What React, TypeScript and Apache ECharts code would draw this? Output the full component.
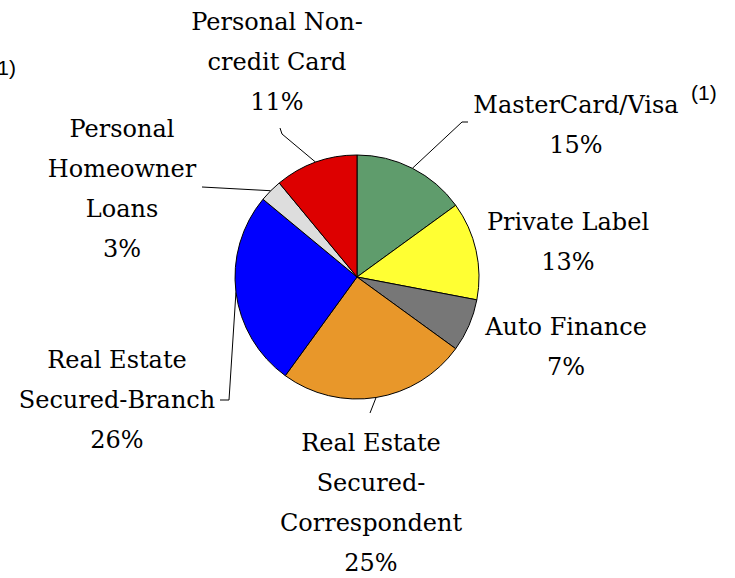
import React, { useEffect, useRef } from "react";
import * as echarts from "echarts";

const categories = [
  "MasterCard/Visa",
  "Private Label",
  "Auto Finance",
  "Real Estate Secured-Correspondent",
  "Real Estate Secured-Branch",
  "Personal Homeowner Loans",
  "Personal Non-credit Card",
];
const labelTexts = [
  "MasterCard/Visa",
  "Private Label",
  "Auto Finance",
  "Real Estate\nSecured-\nCorrespondent",
  "Real Estate\nSecured-Branch",
  "Personal\nHomeowner\nLoans",
  "Personal Non-\ncredit Card",
];
const values = [15, 13, 7, 25, 26, 3, 11];
const colors = ["#5f9c6c", "#ffff33", "#777777", "#e8972a", "#0000ff", "#dddddd", "#dd0000"];

// layout: label block centres and leader-line bends
const labelCenters: [number, number][] = [
  [576, 125],
  [568, 242],
  [566, 347],
  [371, 503],
  [117, 400],
  [122, 189],
  [277, 62],
];
const leaderBends: ([number, number][] | null)[] = [
  [[462, 122], [468, 122]],
  null,
  null,
  [[370, 413]],
  [[229, 400], [220, 400]],
  [[202, 187]],
  [[282, 134], [280, 128]],
];

const PIE_CX = 357;
const PIE_CY = 277;
const PIE_R = 122;
const FONT = "'DejaVu Serif', serif";
const SANS = "'Liberation Sans', Arial, sans-serif";

export default function App() {
  const ref = useRef<HTMLDivElement>(null);
  useEffect(() => {
    if (!ref.current) return;
    const chart = echarts.init(ref.current, null, { renderer: "svg" });
    const total = values.reduce((a, b) => a + b, 0);
    const edgePoint = (i: number): [number, number] => {
      const before = values.slice(0, i).reduce((a, b) => a + b, 0);
      const mid = ((before + values[i] / 2) / total) * Math.PI * 2;
      return [PIE_CX + PIE_R * Math.sin(mid), PIE_CY - PIE_R * Math.cos(mid)];
    };
    chart.setOption({
      animation: false,
      backgroundColor: "#ffffff",
      graphic: [
        {
          type: "text",
          x: 16,
          y: 67,
          style: {
            text: "(1)",
            fontSize: 21,
            fontFamily: SANS,
            fill: "#000",
            align: "right",
            verticalAlign: "middle",
          },
        },
        {
          type: "text",
          x: 691,
          y: 92,
          style: {
            text: "(1)",
            fontSize: 21,
            fontFamily: SANS,
            fill: "#000",
            align: "left",
            verticalAlign: "middle",
          },
        },
      ],
      series: [
        {
          type: "pie",
          center: [PIE_CX, PIE_CY],
          radius: PIE_R,
          startAngle: 90,
          clockwise: true,
          avoidLabelOverlap: false,
          itemStyle: { borderColor: "#000", borderWidth: 1 },
          emphasis: { disabled: true },
          label: {
            show: true,
            position: "outside",
            fontFamily: FONT,
            fontSize: 24,
            lineHeight: 40,
            color: "#000",
            align: "center",
            formatter: (p: any) => `${labelTexts[p.dataIndex]}\n${p.value}%`,
          },
          labelLine: { show: true, lineStyle: { color: "#000", width: 1 } },
          labelLayout: (p: any) => {
            const i = p.dataIndex;
            const [x, y] = labelCenters[i];
            const out: any = { x, y, align: "center", verticalAlign: "middle", hideOverlap: false };
            const bends = leaderBends[i];
            if (bends) {
              out.labelLinePoints = [edgePoint(i), ...bends];
            }
            return out;
          },
          data: categories.map((name, i) => ({
            name,
            value: values[i],
            itemStyle: { color: colors[i] },
            labelLine: { show: leaderBends[i] !== null },
          })),
        },
      ],
    });
    return () => chart.dispose();
  }, []);
  return (
    <div
      ref={ref}
      style={{ position: "fixed", left: 0, top: 0, width: 735, height: 578, background: "#fff" }}
    />
  );
}
